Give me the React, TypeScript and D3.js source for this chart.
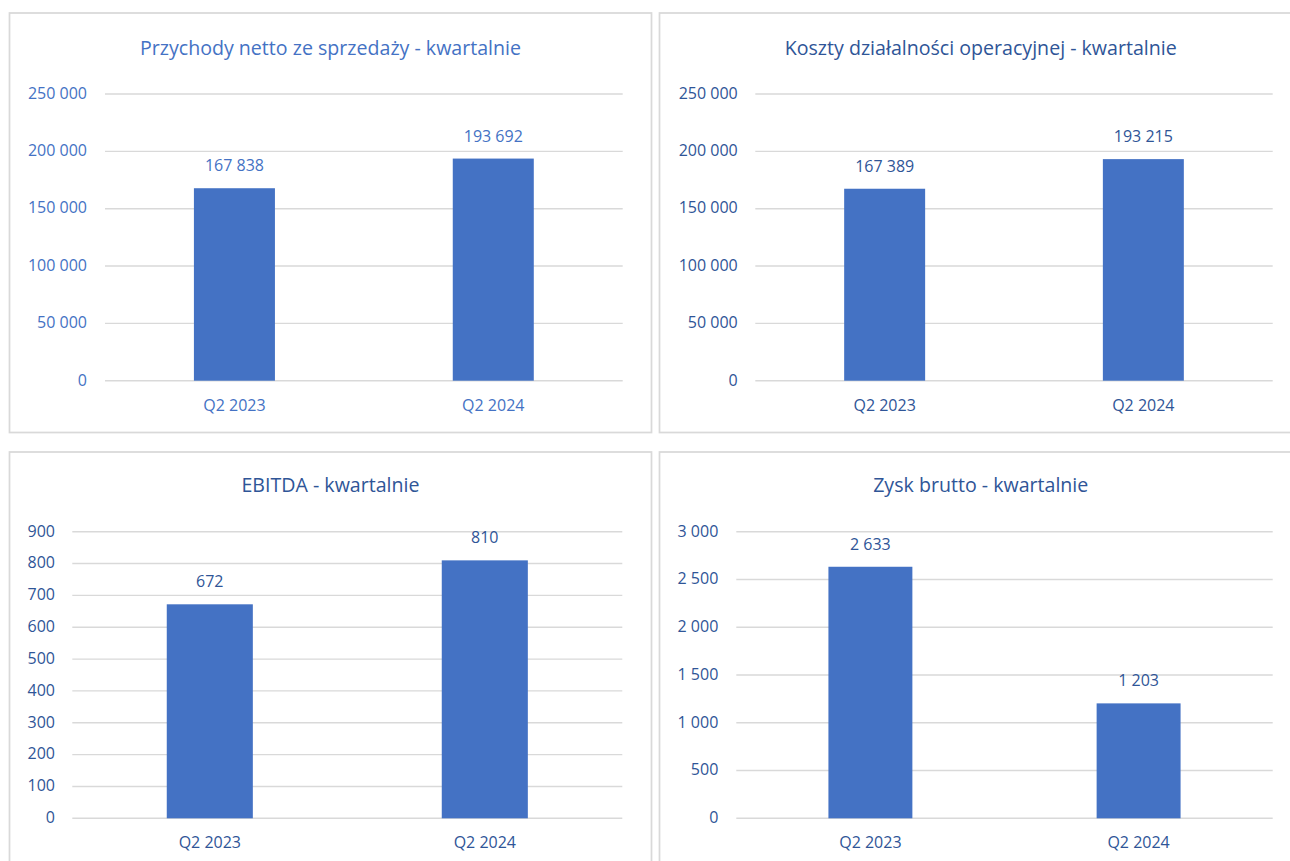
import React from "react";
import * as d3 from "d3";

const categories = ["Q2 2023", "Q2 2024"];
const revenueValues = [167838, 193692];
const costValues = [167389, 193215];
const ebitdaValues = [672, 810];
const grossProfitValues = [2633, 1203];

const revenueTicks = [0, 50000, 100000, 150000, 200000, 250000];
const costTicks = [0, 50000, 100000, 150000, 200000, 250000];
const ebitdaTicks = [0, 100, 200, 300, 400, 500, 600, 700, 800, 900];
const grossProfitTicks = [0, 500, 1000, 1500, 2000, 2500, 3000];

const titles = [
  "Przychody netto ze sprzedaży - kwartalnie",
  "Koszty działalności operacyjnej - kwartalnie",
  "EBITDA - kwartalnie",
  "Zysk brutto - kwartalnie",
];

const locale = d3.formatLocale({
  decimal: ",",
  thousands: " ",
  grouping: [3],
  currency: ["", " zł"],
});
const fmt = locale.format(",d");

const BAR = "#4472C4";
const GRID = "#D9D9D9";
const FONT = "'Open Sans', sans-serif";

type PanelCfg = {
  title: string;
  values: number[];
  ticks: number[];
  box: [number, number, number, number];
  plotX: [number, number];
  plotY: [number, number]; // [zero px, max px]
  tickRight: number;
  titleY: number;
  color: string;
};

const panels: PanelCfg[] = [
  {
    title: titles[0],
    values: revenueValues,
    ticks: revenueTicks,
    box: [9.5, 13, 651.5, 432.5],
    plotX: [105, 622.7],
    plotY: [380.7, 94],
    tickRight: 87,
    titleY: 55,
    color: "#4472C4",
  },
  {
    title: titles[1],
    values: costValues,
    ticks: costTicks,
    box: [659.5, 13, 1302, 432.5],
    plotX: [755.3, 1272.7],
    plotY: [380.7, 94],
    tickRight: 737.7,
    titleY: 55,
    color: "#2F5597",
  },
  {
    title: titles[2],
    values: ebitdaValues,
    ticks: ebitdaTicks,
    box: [9.5, 452, 651.5, 880],
    plotX: [72.3, 622.3],
    plotY: [818.3, 531.7],
    tickRight: 55,
    titleY: 491.7,
    color: "#2F5597",
  },
  {
    title: titles[3],
    values: grossProfitValues,
    ticks: grossProfitTicks,
    box: [659.5, 452, 1302, 880],
    plotX: [736.3, 1272.7],
    plotY: [818.3, 531.7],
    tickRight: 718.3,
    titleY: 491.7,
    color: "#2F5597",
  },
];

function Panel({ cfg }: { cfg: PanelCfg }) {
  const [bx0, by0, bx1, by1] = cfg.box;
  const x = d3.scaleBand<string>().domain(categories).range(cfg.plotX).padding(0);
  const maxTick = cfg.ticks[cfg.ticks.length - 1];
  const y = d3.scaleLinear().domain([0, maxTick]).range(cfg.plotY);
  const barW = x.step() * 0.313;
  const cx = (c: string) => (x(c) as number) + x.bandwidth() / 2;
  return (
    <g>
      <rect
        x={bx0}
        y={by0}
        width={bx1 - bx0}
        height={by1 - by0}
        fill="#fff"
        stroke={GRID}
        strokeWidth={1.75}
      />
      <text
        x={(bx0 + bx1) / 2}
        y={cfg.titleY}
        textAnchor="middle"
        fontFamily={FONT}
        fontSize={19.6}
        fill={cfg.color}
      >
        {cfg.title}
      </text>
      {cfg.ticks.map((t) => (
        <g key={t}>
          <line
            x1={cfg.plotX[0]}
            x2={cfg.plotX[1]}
            y1={y(t)}
            y2={y(t)}
            stroke={GRID}
            strokeWidth={1.4}
          />
          <text
            x={cfg.tickRight}
            y={y(t)}
            dy="0.3em"
            textAnchor="end"
            fontFamily={FONT}
            fontSize={16}
            fill={cfg.color}
          >
            {fmt(t)}
          </text>
        </g>
      ))}
      {categories.map((c, i) => (
        <g key={c}>
          <rect
            x={cx(c) - barW / 2}
            y={y(cfg.values[i])}
            width={barW}
            height={y(0) - y(cfg.values[i])}
            fill={BAR}
          />
          <text
            x={cx(c)}
            y={y(cfg.values[i]) - 17}
            textAnchor="middle"
            fontFamily={FONT}
            fontSize={16}
            fill={cfg.color}
          >
            {fmt(cfg.values[i])}
          </text>
          <text
            x={cx(c)}
            y={y(0) + 30}
            textAnchor="middle"
            fontFamily={FONT}
            fontSize={16}
            fill={cfg.color}
          >
            {c}
          </text>
        </g>
      ))}
    </g>
  );
}

export default function App() {
  return (
    <svg
      width={1290}
      height={861}
      style={{ position: "absolute", left: 0, top: 0, background: "#fff" }}
    >
      <rect x={0} y={0} width={1290} height={861} fill="#fff" />
      {panels.map((p, i) => (
        <Panel key={i} cfg={p} />
      ))}
    </svg>
  );
}
